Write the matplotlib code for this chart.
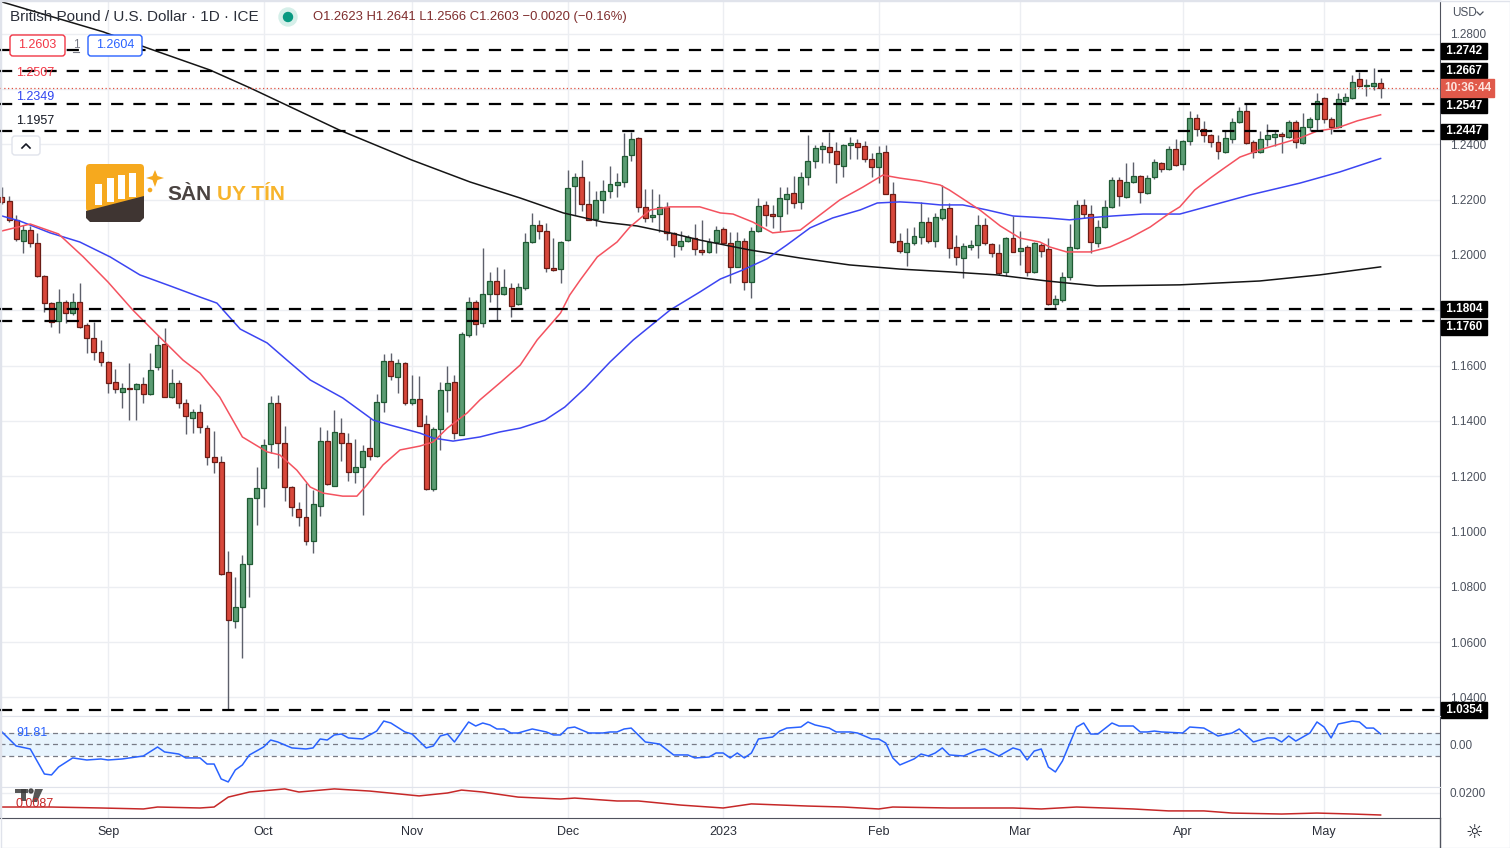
import numpy as np
import pandas as pd
import matplotlib
matplotlib.use('Agg')
import matplotlib.pyplot as plt
from matplotlib.patches import Circle, FancyBboxPatch, Polygon, Rectangle

plt.rcParams['font.family'] = ['Liberation Sans', 'DejaVu Sans']

W, H = 1510, 848

# ---------------- data (GBP/USD daily, ICE) ----------------
start_date = '2022-08-11'

opens = [1.2210, 1.2195, 1.2127, 1.2051, 1.2090, 1.2043, 1.1924, 1.1826, 1.1761, 1.1830,
         1.1790, 1.1830, 1.1747, 1.1700, 1.1649, 1.1613, 1.1541, 1.1505, 1.1519, 1.1515,
         1.1533, 1.1497, 1.1595, 1.1678, 1.1486, 1.1537, 1.1465, 1.1410, 1.1432, 1.1374,
         1.1269, 1.1251, 1.0853, 1.0677, 1.0727, 1.0882, 1.1121, 1.1157, 1.1316, 1.1465,
         1.1320, 1.1161, 1.1081, 1.1052, 1.0966, 1.1092, 1.1327, 1.1165, 1.1356, 1.1320,
         1.1215, 1.1233, 1.1302, 1.1273, 1.1468, 1.1617, 1.1559, 1.1610, 1.1465, 1.1479,
         1.1389, 1.1154, 1.1371, 1.1512, 1.1541, 1.1349, 1.1711, 1.1830, 1.1754, 1.1859,
         1.1906, 1.1859, 1.1881, 1.1823, 1.1881, 1.2047, 1.2108, 1.2087, 1.1953, 1.1949,
         1.2054, 1.2250, 1.2282, 1.2184, 1.2130, 1.2199, 1.2231, 1.2253, 1.2264, 1.2362,
         1.2423, 1.2174, 1.2137, 1.2148, 1.2174, 1.2080, 1.2033, 1.2051, 1.2061, 1.2018,
         1.2011, 1.2047, 1.2094, 1.2043, 1.1957, 1.2051, 1.1902, 1.2087, 1.2181, 1.2148,
         1.2141, 1.2203, 1.2224, 1.2192, 1.2282, 1.2340, 1.2383, 1.2391, 1.2376, 1.2322,
         1.2398, 1.2405, 1.2394, 1.2347, 1.2318, 1.2373, 1.2221, 1.2051, 1.2011, 1.2043,
         1.2065, 1.2119, 1.2051, 1.2134, 1.2170, 1.2029, 1.1989, 1.2029, 1.2036, 1.2108,
         1.2040, 1.2007, 1.1939, 1.2061, 1.2014, 1.2029, 1.1939, 1.2036, 1.2022, 1.1823,
         1.1837, 1.1920, 1.2025, 1.2181, 1.2148, 1.2043, 1.2101, 1.2174, 1.2271, 1.2210,
         1.2264, 1.2286, 1.2224, 1.2282, 1.2333, 1.2311, 1.2383, 1.2329, 1.2412, 1.2495,
         1.2456, 1.2434, 1.2409, 1.2373, 1.2420, 1.2481, 1.2521, 1.2409, 1.2373, 1.2420,
         1.2427, 1.2438, 1.2427, 1.2481, 1.2405, 1.2463, 1.2492, 1.2568, 1.2492, 1.2463,
         1.2557, 1.2568, 1.2637, 1.2611, 1.2611, 1.2623]
highs = [1.2246, 1.2213, 1.2145, 1.2108, 1.2105, 1.2080, 1.1928, 1.1830, 1.1877, 1.1837,
         1.1863, 1.1899, 1.1754, 1.1758, 1.1693, 1.1616, 1.1588, 1.1537, 1.1609, 1.1537,
         1.1559, 1.1646, 1.1711, 1.1736, 1.1588, 1.1548, 1.1480, 1.1443, 1.1461, 1.1385,
         1.1363, 1.1273, 1.0929, 1.0835, 1.0915, 1.1121, 1.1233, 1.1335, 1.1490, 1.1494,
         1.1382, 1.1165, 1.1107, 1.1175, 1.1150, 1.1378, 1.1367, 1.1439, 1.1410, 1.1356,
         1.1335, 1.1313, 1.1410, 1.1497, 1.1642, 1.1646, 1.1624, 1.1613, 1.1566, 1.1562,
         1.1421, 1.1378, 1.1541, 1.1599, 1.1566, 1.1720, 1.1848, 1.1837, 1.2025, 1.1939,
         1.1957, 1.1949, 1.1899, 1.1899, 1.2080, 1.2152, 1.2127, 1.2116, 1.2061, 1.2050,
         1.2307, 1.2297, 1.2344, 1.2268, 1.2231, 1.2271, 1.2322, 1.2297, 1.2441, 1.2445,
         1.2427, 1.2239, 1.2239, 1.2221, 1.2192, 1.2083, 1.2087, 1.2072, 1.2112, 1.2127,
         1.2061, 1.2105, 1.2101, 1.2083, 1.2083, 1.2061, 1.2101, 1.2206, 1.2195, 1.2181,
         1.2246, 1.2246, 1.2286, 1.2300, 1.2434, 1.2398, 1.2409, 1.2445, 1.2409, 1.2401,
         1.2427, 1.2420, 1.2412, 1.2369, 1.2394, 1.2398, 1.2264, 1.2080, 1.2098, 1.2101,
         1.2192, 1.2137, 1.2152, 1.2253, 1.2188, 1.2072, 1.2043, 1.2054, 1.2145, 1.2134,
         1.2043, 1.2040, 1.2065, 1.2141, 1.2087, 1.2036, 1.2047, 1.2043, 1.2061, 1.1855,
         1.1939, 1.2112, 1.2199, 1.2203, 1.2181, 1.2127, 1.2199, 1.2282, 1.2282, 1.2333,
         1.2336, 1.2289, 1.2289, 1.2347, 1.2336, 1.2394, 1.2420, 1.2416, 1.2521, 1.2510,
         1.2485, 1.2438, 1.2434, 1.2452, 1.2495, 1.2535, 1.2546, 1.2416, 1.2449, 1.2474,
         1.2452, 1.2445, 1.2488, 1.2488, 1.2514, 1.2499, 1.2586, 1.2571, 1.2499, 1.2586,
         1.2586, 1.2651, 1.2662, 1.2637, 1.2676, 1.2641]
lows = [1.2185, 1.2119, 1.2051, 1.2007, 1.2029, 1.1920, 1.1794, 1.1740, 1.1718, 1.1754,
        1.1783, 1.1736, 1.1646, 1.1620, 1.1599, 1.1501, 1.1501, 1.1447, 1.1403, 1.1403,
        1.1465, 1.1495, 1.1584, 1.1486, 1.1484, 1.1447, 1.1353, 1.1356, 1.1356, 1.1240,
        1.1212, 1.0843, 1.0354, 1.0651, 1.0543, 1.0763, 1.1023, 1.1089, 1.1284, 1.1230,
        1.1110, 1.1056, 1.1020, 1.0951, 1.0922, 1.1056, 1.1170, 1.1163, 1.1255, 1.1183,
        1.1175, 1.1060, 1.1258, 1.1269, 1.1432, 1.1548, 1.1501, 1.1458, 1.1458, 1.1380,
        1.1150, 1.1146, 1.1295, 1.1432, 1.1335, 1.1349, 1.1705, 1.1711, 1.1740, 1.1830,
        1.1765, 1.1855, 1.1776, 1.1819, 1.1873, 1.2045, 1.2058, 1.1939, 1.1942, 1.1899,
        1.2051, 1.2145, 1.2159, 1.2127, 1.2105, 1.2152, 1.2206, 1.2210, 1.2246, 1.2340,
        1.2156, 1.2119, 1.2119, 1.2083, 1.2054, 1.1993, 1.2018, 1.2047, 1.2000, 1.2000,
        1.2007, 1.2007, 1.2040, 1.1899, 1.1955, 1.1873, 1.1844, 1.2083, 1.2105, 1.2098,
        1.2087, 1.2148, 1.2170, 1.2166, 1.2253, 1.2315, 1.2333, 1.2333, 1.2260, 1.2282,
        1.2347, 1.2347, 1.2336, 1.2282, 1.2260, 1.2219, 1.2045, 1.2007, 1.1960, 1.2036,
        1.2040, 1.2043, 1.2029, 1.2127, 1.1989, 1.1964, 1.1917, 1.2018, 1.1989, 1.2036,
        1.1993, 1.1928, 1.1924, 1.2011, 1.1964, 1.1924, 1.1935, 1.1993, 1.1819, 1.1805,
        1.1830, 1.1910, 1.2022, 1.2134, 1.2007, 1.2029, 1.2099, 1.2170, 1.2177, 1.2206,
        1.2260, 1.2188, 1.2221, 1.2275, 1.2300, 1.2309, 1.2320, 1.2307, 1.2398, 1.2430,
        1.2409, 1.2391, 1.2347, 1.2369, 1.2405, 1.2479, 1.2403, 1.2351, 1.2369, 1.2394,
        1.2394, 1.2369, 1.2423, 1.2387, 1.2403, 1.2449, 1.2449, 1.2477, 1.2438, 1.2459,
        1.2542, 1.2564, 1.2608, 1.2575, 1.2597, 1.2566]
closes = [1.2192, 1.2127, 1.2058, 1.2090, 1.2043, 1.1924, 1.1826, 1.1758, 1.1830, 1.1790,
          1.1830, 1.1740, 1.1700, 1.1649, 1.1613, 1.1537, 1.1515, 1.1519, 1.1515, 1.1533,
          1.1497, 1.1584, 1.1675, 1.1486, 1.1537, 1.1465, 1.1418, 1.1432, 1.1378, 1.1269,
          1.1251, 1.0846, 1.0680, 1.0727, 1.0882, 1.1121, 1.1157, 1.1313, 1.1465, 1.1320,
          1.1161, 1.1089, 1.1052, 1.0966, 1.1099, 1.1327, 1.1172, 1.1360, 1.1320, 1.1215,
          1.1233, 1.1291, 1.1273, 1.1468, 1.1617, 1.1562, 1.1610, 1.1465, 1.1479, 1.1382,
          1.1154, 1.1371, 1.1512, 1.1537, 1.1356, 1.1714, 1.1830, 1.1750, 1.1859, 1.1906,
          1.1859, 1.1884, 1.1816, 1.1884, 1.2047, 1.2108, 1.2087, 1.1953, 1.1946, 1.2047,
          1.2242, 1.2282, 1.2184, 1.2127, 1.2199, 1.2231, 1.2257, 1.2264, 1.2358, 1.2420,
          1.2174, 1.2134, 1.2145, 1.2174, 1.2080, 1.2036, 1.2051, 1.2065, 1.2022, 1.2011,
          1.2047, 1.2090, 1.2043, 1.1957, 1.2051, 1.1902, 1.2087, 1.2177, 1.2145, 1.2141,
          1.2206, 1.2221, 1.2188, 1.2282, 1.2340, 1.2387, 1.2394, 1.2373, 1.2329, 1.2398,
          1.2405, 1.2391, 1.2347, 1.2318, 1.2369, 1.2221, 1.2047, 1.2014, 1.2043, 1.2069,
          1.2119, 1.2051, 1.2137, 1.2166, 1.2025, 1.1993, 1.2033, 1.2036, 1.2108, 1.2043,
          1.2007, 1.1935, 1.2061, 1.2011, 1.2025, 1.1939, 1.2043, 1.2014, 1.1823, 1.1841,
          1.1920, 1.2029, 1.2181, 1.2148, 1.2047, 1.2101, 1.2174, 1.2271, 1.2213, 1.2264,
          1.2286, 1.2228, 1.2278, 1.2336, 1.2311, 1.2383, 1.2326, 1.2412, 1.2495, 1.2456,
          1.2434, 1.2409, 1.2376, 1.2423, 1.2481, 1.2521, 1.2405, 1.2373, 1.2420, 1.2434,
          1.2438, 1.2430, 1.2481, 1.2409, 1.2463, 1.2492, 1.2557, 1.2492, 1.2463, 1.2564,
          1.2571, 1.2626, 1.2611, 1.2615, 1.2623, 1.2603]

# moving averages, sampled (bar index, price)
ma20_idx = [0, 4, 8, 11.5, 15, 18.5, 22, 25.6, 28, 30.8, 34, 37.5, 39.3, 41.7, 43.6, 45.4, 48.2,
            50.2, 51.6, 53.9, 56.3, 59.1, 61, 63, 65.8, 67.6, 70.4, 73.3, 75.7, 79, 80.3, 81.8,
            84.2, 87, 88.8, 91.7, 94.5, 98.7, 101.6, 103.4, 106.2, 109, 112.9, 115.3, 118.5,
            121.8, 124.6, 127, 129.8, 132.7, 134, 138.3, 141.2, 144, 146.8, 148.2, 150.6,
            153.9, 156.7, 159.5, 162.4, 165.2, 166.6, 168.7, 170.9, 172.7, 175.1, 177.9,
            180.3, 183.6, 186, 188.8, 191.7, 195]
ma20_val = [1.2087, 1.2112, 1.2076, 1.1993, 1.1902, 1.1801, 1.1711, 1.1620, 1.1573, 1.1486,
            1.1342, 1.1288, 1.1277, 1.1222, 1.1161, 1.1139, 1.1128, 1.1128, 1.1168, 1.1241,
            1.1295, 1.1309, 1.1324, 1.1374, 1.1429, 1.1476, 1.1537, 1.1602, 1.1693, 1.1790,
            1.1855, 1.1910, 1.1993, 1.2047, 1.2101, 1.2163, 1.2174, 1.2174, 1.2152, 1.2148,
            1.2119, 1.2080, 1.2090, 1.2137, 1.2199, 1.2246, 1.2289, 1.2278, 1.2268, 1.2253,
            1.2235, 1.2163, 1.2105, 1.2061, 1.2047, 1.2029, 1.2011, 1.2011, 1.2029, 1.2061,
            1.2101, 1.2152, 1.2174, 1.2235, 1.2278, 1.2311, 1.2354, 1.2380, 1.2398, 1.2423,
            1.2448, 1.2459, 1.2485, 1.2507]

ma50_idx = [0, 2.5, 6.8, 11, 15.3, 19.5, 23.8, 28, 30.4, 33.7, 37.5, 40.3, 43.6, 48.2, 52.5,
            54.9, 59.1, 61, 63.8, 67.6, 70.4, 73.3, 76.8, 79.6, 82.5, 86, 89.3, 94.5, 98.7,
            101.6, 104.8, 108.2, 111, 114.3, 117.5, 121.4, 123.8, 127, 129.8, 132.7, 135.9,
            139.3, 143, 147.8, 151, 153.5, 157.1, 161.4, 166.6, 176.5, 183.6, 189.2, 195]
ma50_val = [1.2141, 1.2123, 1.2080, 1.2047, 1.1993, 1.1928, 1.1888, 1.1848, 1.1826, 1.1732,
            1.1682, 1.1620, 1.1548, 1.1483, 1.1403, 1.1385, 1.1356, 1.1338, 1.1327, 1.1342,
            1.1360, 1.1374, 1.1403, 1.1450, 1.1519, 1.1613, 1.1693, 1.1801, 1.1866, 1.1913,
            1.1946, 1.1986, 1.2036, 1.2098, 1.2134, 1.2163, 1.2188, 1.2192, 1.2188, 1.2181,
            1.2181, 1.2163, 1.2141, 1.2134, 1.2127, 1.2134, 1.2141, 1.2148, 1.2148, 1.2217,
            1.2260, 1.2300, 1.2349]

ma200_idx = [0, 14.3, 20.5, 29.4, 35.1, 47.7, 57.9, 66.2, 73.3, 79.4, 85, 89.8, 94.5, 98.7,
             105.8, 112.9, 119.9, 127, 134, 140.7, 147.8, 154.9, 166.6, 177.9, 186.4, 195]
ma200_val = [1.2915, 1.2807, 1.2749, 1.2669, 1.2604, 1.2452, 1.2344, 1.2264, 1.2206, 1.2152,
             1.2119, 1.2105, 1.2080, 1.2054, 1.2018, 1.1989, 1.1964, 1.1949, 1.1939, 1.1928,
             1.1906, 1.1888, 1.1892, 1.1906, 1.1928, 1.1957]

levels = [1.2742, 1.2667, 1.2547, 1.2447, 1.1804, 1.1760, 1.0354]
bid, ask = 1.2603, 1.2604
countdown = '10:36:44'
price_ticks = [1.04, 1.06, 1.08, 1.10, 1.12, 1.14, 1.16, 1.18, 1.20, 1.22, 1.24, 1.26, 1.28]
hidden_ticks = [1.18, 1.26]   # covered by level / countdown labels in the original

# CCI oscillator (bar index, value)
cci_idx = [0, 2, 4, 6, 7, 8, 10, 12, 14, 15, 17, 19, 20, 22, 23, 25, 26, 28, 29, 30, 31, 32,
           33, 34, 35, 37, 38, 39, 41, 43, 44, 45, 46, 47, 48, 49, 51, 53, 54, 55, 57, 58, 60,
           61, 62, 63, 64, 66, 67, 68, 69, 70, 71, 72, 73, 75, 77, 78, 79, 80, 81, 83, 85, 86,
           87, 88, 89, 91, 93, 95, 97, 98, 100, 101, 102, 103, 104, 105, 106, 107, 109, 110,
           111, 113, 114, 115, 117, 118, 120, 121, 123, 124, 125, 126, 127, 129, 130, 131,
           132, 133, 134, 136, 138, 139, 141, 143, 144, 145, 146, 147, 148, 149, 150, 152,
           153, 154, 155, 157, 158, 160, 161, 162, 163, 164, 167, 168, 170, 172, 174, 175,
           177, 179, 180, 181, 182, 183, 185, 186, 187, 188, 189, 191, 192, 193, 194, 195]
cci_val = [109, -13, -39, -257, -265, -196, -117, -135, -126, -135, -126, -109, -100, -22,
           -65, -83, -117, -117, -170, -170, -300, -326, -222, -178, -91, -22, 39, 22, -30,
           -39, -30, 48, 39, 83, 91, 57, 48, 117, 204, 187, 109, 91, -30, -13, 74, 91, 22,
           196, 161, 187, 170, 135, 135, 100, 100, 135, 109, 83, 83, 143, 152, 100, 100, 109,
           109, 135, 143, 22, 4, -91, -91, -117, -109, -74, -74, -117, -74, -117, -74, 48,
           65, 117, 143, 152, 196, 170, 143, 109, 109, 100, 48, 48, 13, -117, -178, -126,
           -83, -100, -74, -30, -91, -100, -48, -39, -100, -30, -48, -135, -57, -39, -196,
           -239, -143, 152, 187, 91, 91, 187, 161, 161, 109, 109, 117, 109, 100, 152, 143,
           74, 100, 135, 22, 57, 57, 22, 74, 30, 100, 196, 152, 57, 178, 204, 196, 143, 143,
           91.81]

# ATR (bar index, value)
atr_idx = [0, 7, 14, 20, 22, 28, 30, 32, 35, 40, 42, 47, 52, 59, 63, 65, 68, 73, 79, 81, 87,
           90, 96, 102, 106, 114, 119, 124, 126, 134, 143, 147, 152, 160, 165, 170, 174, 181,
           186, 191, 195]
atr_val = [0.0128, 0.0128, 0.0123, 0.0118, 0.0128, 0.0123, 0.0128, 0.0179, 0.0205, 0.0221,
           0.0205, 0.0221, 0.0210, 0.0185, 0.0200, 0.0215, 0.0205, 0.0179, 0.0169, 0.0174,
           0.0159, 0.0159, 0.0138, 0.0123, 0.0144, 0.0133, 0.0128, 0.0118, 0.0128, 0.0123,
           0.0123, 0.0118, 0.0128, 0.0118, 0.0108, 0.0108, 0.0097, 0.0092, 0.0097, 0.0092,
           0.0087]

# ---------------- figure ----------------
o = np.array(opens); h = np.array(highs); l = np.array(lows); c = np.array(closes)
n = len(c)
idx = np.arange(n)
dates = pd.bdate_range(start_date, periods=n)
month_pos = [i for i in range(1, n) if dates[i].month != dates[i - 1].month]
month_lab = ['2023' if dates[i].month == 1 else dates[i].strftime('%b') for i in month_pos]

fig = plt.figure(figsize=(W / 100, H / 100), dpi=100, facecolor='white')


def px_axes(x0, y0, x1, y1):
    return fig.add_axes([x0 / W, 1 - y1 / H, (x1 - x0) / W, (y1 - y0) / H])


ax = px_axes(0, 0, 1440, 716)
ax_cci = px_axes(0, 716, 1440, 787)
ax_atr = px_axes(0, 787, 1440, 818)

grid_c = '#eceef2'
xlim = (-0.283, 203.4)
for a in (ax, ax_cci, ax_atr):
    a.set_xlim(*xlim)
    a.set_facecolor('white')
    for m in month_pos:
        a.axvline(m, color=grid_c, lw=1, zorder=0)
    a.yaxis.tick_right()
    a.tick_params(axis='y', length=0, pad=7, labelsize=8.5, labelcolor='#4c525e')
    a.tick_params(axis='x', length=0)
    for s in ('left', 'top', 'bottom'):
        a.spines[s].set_color('#e0e3eb')
    a.spines['right'].set_color('#50535e')

# main price pane
ax.set_ylim(1.0333, 1.2922)
for t in price_ticks:
    ax.axhline(t, color=grid_c, lw=1, zorder=0)
ax.set_yticks(price_ticks)
ax.set_yticklabels(['' if any(abs(t - z) < 1e-9 for z in hidden_ticks) else f'{t:.4f}'
                    for t in price_ticks])
ax.set_xticks([])

ax.vlines(idx, l, h, color='#5d606b', lw=1, zorder=3)
up = c >= o
body = np.maximum(np.abs(c - o), 0.00035)
ax.bar(idx[up], body[up], bottom=o[up], width=0.7, color='#5b9c73',
       edgecolor='#1f5a33', lw=0.9, zorder=4)
ax.bar(idx[~up], body[~up], bottom=c[~up], width=0.7, color='#d8483b',
       edgecolor='#6b1c15', lw=0.9, zorder=4)

ax.plot(ma200_idx, ma200_val, color='#151515', lw=1.1, zorder=5)
ax.plot(ma50_idx, ma50_val, color='#3c45f2', lw=1.1, zorder=5)
ax.plot(ma20_idx, ma20_val, color='#f4525f', lw=1.1, zorder=5)

ax.axhline(bid, color='#e0503f', lw=0.9, ls=(0, (1, 2)), zorder=5)

label_shift = {1.2547: -2, 1.1760: -6, 1.2742: -1}
for lv in levels:
    ax.axhline(lv, color='black', lw=1.6, dashes=(5.5, 4.5), zorder=6)
    ax.annotate(f' {lv:.4f} ', xy=(1, lv), xycoords=('axes fraction', 'data'),
                xytext=(3, label_shift.get(lv, 0)), textcoords='offset pixels',
                ha='left', va='center', fontsize=8.5, fontweight='bold', color='white',
                bbox=dict(boxstyle='square,pad=0.15', fc='black', ec='black'),
                annotation_clip=False, zorder=10)
ax.annotate(countdown, xy=(1, bid), xycoords=('axes fraction', 'data'),
            xytext=(4, 0), textcoords='offset pixels', ha='left', va='center',
            fontsize=8.5, fontweight='bold', color='#fde4df',
            bbox=dict(boxstyle='square,pad=0.25', fc='#e0594a', ec='#e0594a'),
            annotation_clip=False, zorder=10)

# CCI pane
ax_cci.set_ylim(-370, 248)
ax_cci.axhspan(-100, 100, color='#2196f3', alpha=0.1, lw=0, zorder=0)
for lv in (100, 0, -100):
    ax_cci.axhline(lv, color='#787b86', lw=0.9, ls=(0, (4, 3)), zorder=1)
ax_cci.plot(cci_idx, cci_val, color='#2962ff', lw=1.1, zorder=3)
ax_cci.set_yticks([0])
ax_cci.set_yticklabels(['0.00'])
ax_cci.set_xticks([])

# ATR pane
ax_atr.set_ylim(0.00716, 0.02308)
ax_atr.axhline(0.02, color=grid_c, lw=1, zorder=0)
ax_atr.plot(atr_idx, atr_val, color='#c62828', lw=1.1, zorder=3)
ax_atr.set_yticks([0.02])
ax_atr.set_yticklabels(['0.0200'])
ax_atr.set_xticks(month_pos)
ax_atr.set_xticklabels(month_lab)
ax_atr.tick_params(axis='x', pad=6, labelsize=9, labelcolor='#2a2e39')
ax_atr.spines['bottom'].set_color('#50535e')

# ---------------- overlay (texts, legend boxes, watermark) ----------------
ov = fig.add_axes([0, 0, 1, 1], zorder=20)
ov.set_xlim(0, W)
ov.set_ylim(H, 0)
ov.axis('off')
ov.patch.set_alpha(0)

ov.text(10, 17, 'British Pound / U.S. Dollar · 1D · ICE', fontsize=11,
        color='#2a2e39', va='center', ha='left')
ov.add_patch(Circle((288, 17), 9, color='#d5efe9'))
ov.add_patch(Circle((288, 17), 4.5, color='#089981'))
chg = closes[-1] - closes[-2]
ohlc_txt = (f'O{opens[-1]:.4f} H{highs[-1]:.4f} L{lows[-1]:.4f} C{closes[-1]:.4f} '
            f'{chg:+.4f} ({chg / closes[-2] * 100:+.2f}%)').replace('-', '\u2212')
ov.text(313, 17, ohlc_txt, fontsize=9.4, color='#7f2d2d', va='center', ha='left')

ov.add_patch(FancyBboxPatch((10, 35), 55, 21, boxstyle='round,pad=0,rounding_size=3',
                            fc='white', ec='#f23645', lw=1))
ov.text(37.5, 45.5, f'{bid:.4f}', fontsize=9, color='#f23645', ha='center', va='center')
ov.text(76, 45.5, '1', fontsize=8.5, color='#787b86', ha='center', va='center')
ov.plot([73, 79], [52, 52], color='#787b86', lw=0.8)
ov.add_patch(FancyBboxPatch((88, 35), 54, 21, boxstyle='round,pad=0,rounding_size=3',
                            fc='white', ec='#2962ff', lw=1))
ov.text(115, 45.5, f'{ask:.4f}', fontsize=9, color='#2962ff', ha='center', va='center')

ov.text(16, 73, f'{ma20_val[-1]:.4f}', fontsize=9, color='#f23645', va='center')
ov.text(16, 97, f'{ma50_val[-1]:.4f}', fontsize=9, color='#2e44f0', va='center')
ov.text(16, 121, f'{ma200_val[-1]:.4f}', fontsize=9, color='#131722', va='center')
ov.add_patch(FancyBboxPatch((12, 136), 28, 19, boxstyle='round,pad=0,rounding_size=3',
                            fc='white', ec='#e0e3eb', lw=1))
ov.plot([22, 26, 30], [148, 144, 148], color='#131722', lw=1.2)

ov.text(16, 733, f'{cci_val[-1]:.2f}', fontsize=9, color='#2962ff', va='center')
# small TradingView mark (shapes) behind the ATR value
ov.add_patch(Rectangle((15, 789), 13, 4, fc='#3a3a3a', ec='none', alpha=0.85))
ov.add_patch(Rectangle((21, 789), 5, 12, fc='#3a3a3a', ec='none', alpha=0.85))
ov.add_patch(Circle((31, 791), 2, color='#3a3a3a', alpha=0.85))
ov.add_patch(Polygon([(35, 789), (43, 789), (37, 802), (32, 802)], closed=True,
                     fc='#3a3a3a', ec='none', alpha=0.85))
ov.text(16, 804, f'{atr_val[-1]:.4f}', fontsize=9, color='#c62828', va='center')

ov.text(1452, 13, 'USD', fontsize=8.5, color='#4c525e', va='center')
ov.plot([1477, 1480, 1483], [12, 15, 12], color='#4c525e', lw=0.9)
ov.plot([1440, 1440], [818, H], color='#50535e', lw=1)
ov.text(1474, 832, '\u263c', fontsize=14, color='#131722', ha='center', va='center',
        family='DejaVu Sans')
ov.add_patch(Rectangle((0.5, 0.5), W - 1, H - 1, fill=False, ec='#e0e3eb', lw=1))

# watermark logo
ov.add_patch(FancyBboxPatch((86, 164), 58, 48, boxstyle='round,pad=0,rounding_size=4',
                            fc='#f6a91e', ec='none'))
for bx, top in ((95, 184), (107, 178), (118, 175), (129, 173)):
    ov.add_patch(Rectangle((bx, top), 7, 205 - top - (bx - 95) * 0.25, fc='white', ec='none'))
ov.add_patch(Polygon([(86, 211), (144, 196), (144, 218), (140, 222), (90, 222), (86, 218)],
                     closed=True, fc='#3f3532', ec='none'))
ov.add_patch(Polygon([(155, 170), (157.5, 176), (164, 178), (157.5, 180), (155, 187),
                      (152.5, 180), (146, 178), (152.5, 176)], closed=True, fc='#f6a91e'))
ov.add_patch(Circle((150, 190), 1.6, color='#f6a91e'))
ov.text(167, 194, 'SÀN', fontsize=15, fontweight='bold', color='#4a4341', va='center')
ov.text(217, 194, 'UY TÍN', fontsize=15, fontweight='bold', color='#f7b42c', va='center')

fig.savefig('out.png', dpi=100, facecolor='white')
